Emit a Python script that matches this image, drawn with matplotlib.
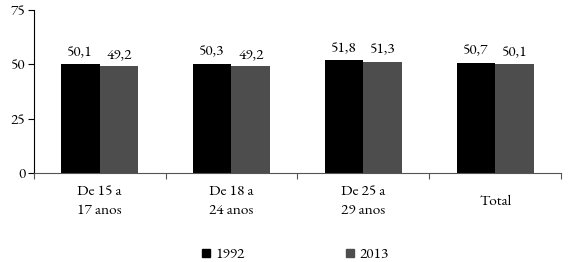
"""
Grouped bar chart - 1992 vs 2013 by age group
"""
import matplotlib
matplotlib.use("Agg")
import matplotlib.pyplot as plt
from matplotlib.lines import Line2D
import numpy as np

categories = ["De 15 a\n17 anos", "De 18 a\n24 anos", "De 25 a\n29 anos", "Total"]
values_1992 = [50.1, 50.3, 51.8, 50.7]
values_2013 = [49.2, 49.2, 51.3, 50.1]
series_labels = ["1992", "2013"]
y_ticks = [0, 25, 50, 75]

colors = ["#000000", "#4d4d4d"]
plt.rcParams["font.family"] = ["EB Garamond", "Liberation Serif", "DejaVu Serif"]
fs = 11

fig = plt.figure(figsize=(5.8, 2.62), dpi=100)
ax = fig.add_axes([0.0578, 0.3397, 0.9102, 0.6221])

x = np.arange(len(categories))
width = 0.295
for offset, vals, col in ((-width / 2, values_1992, colors[0]),
                          (width / 2, values_2013, colors[1])):
    bars = ax.bar(x + offset, vals, width=width, color=col)
    for b, v in zip(bars, vals):
        ax.annotate(f"{v:.1f}".replace(".", ","),
                    (b.get_x() + b.get_width() / 2, b.get_height()),
                    xytext=(0, 3), textcoords="offset points",
                    ha="center", va="bottom", fontsize=fs)

ax.set_xlim(-0.5, len(categories) - 0.5)
ax.set_ylim(0, 75)
ax.set_yticks(y_ticks)
ax.tick_params(axis="y", labelsize=fs, length=4, width=0.8, pad=2)

# category labels between boundary ticks
ax.set_xticks(np.arange(len(categories) + 1) - 0.5)
ax.set_xticklabels([])
ax.tick_params(axis="x", length=4, width=0.8, color="#555555")
ax.set_xticks(x, minor=True)
ax.set_xticklabels(categories, minor=True, fontsize=fs, linespacing=1.45,
                   va="center")
ax.tick_params(axis="x", which="minor", length=0, pad=20.5)

for s in ("top", "right"):
    ax.spines[s].set_visible(False)
ax.spines["bottom"].set_color("#555555")
ax.spines["left"].set_linewidth(0.8)

handles = [Line2D([], [], marker="s", linestyle="none", markersize=6,
                  color=c) for c in colors]
fig.legend(handles, series_labels, loc="center", bbox_to_anchor=(0.508, 0.027),
           ncol=2, frameon=False, fontsize=fs, handlelength=0.7,
           handletextpad=0.3, columnspacing=6.5)

fig.savefig("out.png", dpi=100)
